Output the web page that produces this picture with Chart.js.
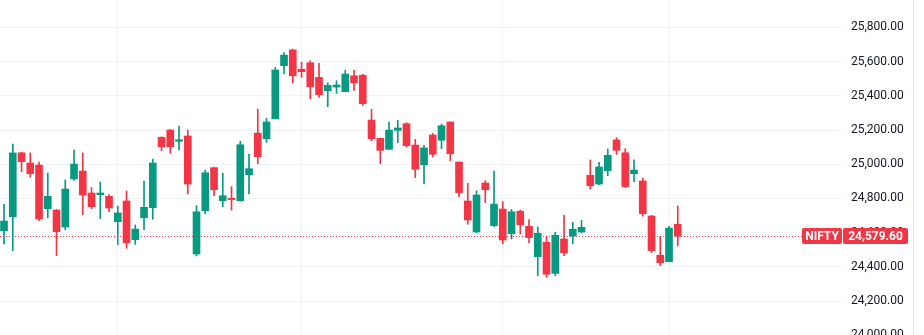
<!DOCTYPE html>
<html>
<head>
<meta charset="utf-8">
<script src="https://cdn.jsdelivr.net/npm/chart.js@4.4.1/dist/chart.umd.min.js"></script>
<style>
  html, body { margin: 0; padding: 0; background: #fff; overflow: hidden; }
  #wrap { width: 924px; height: 350px; position: relative; }
</style>
</head>
<body>
<div id="wrap"><canvas id="myChart"></canvas></div>
<script>
// daily NIFTY candles
const opens = [24611, 24693, 25067, 25007, 24995, 24740, 24732, 24633, 24914, 24960,
  24832, 24822, 24812, 24664, 24785, 24559, 24687, 24746, 25157, 25200,
  25134, 25165, 24475, 24728, 24980, 24787, 24801, 24787, 24939, 25182,
  25149, 25266, 25576, 25668, 25555, 25593, 25508, 25430, 25451, 25424,
  25517, 25520, 25258, 25151, 25087, 25198, 25237, 25112, 24997, 25171,
  25140, 25247, 25013, 24785, 24604, 24890, 24641, 24738, 24594, 24725,
  24637, 24459, 24544, 24362, 24563, 24580, 24604, 24935, 24884, 24962,
  25142, 25067, 24945, 24902, 24697, 24468, 24430, 24649];
const highs = [24766, 25118, 25071, 25066, 25013, 24949, 24736, 24908, 25083, 25066,
  24863, 24896, 24822, 24756, 24843, 24645, 24902, 25030, 25161, 25204,
  25223, 25200, 24758, 24966, 24984, 24947, 24869, 25134, 25060, 25323,
  25268, 25566, 25652, 25673, 25597, 25605, 25590, 25476, 25488, 25549,
  25549, 25526, 25321, 25153, 25247, 25257, 25243, 25146, 25111, 25181,
  25235, 25247, 25013, 24888, 24845, 24904, 24960, 24781, 24736, 24732,
  24676, 24633, 24580, 24602, 24701, 24661, 24672, 25025, 25011, 25089,
  25155, 25091, 25026, 24919, 24701, 24580, 24637, 24756];
const lows = [24534, 24495, 24956, 24924, 24670, 24687, 24465, 24616, 24906, 24705,
  24740, 24682, 24722, 24530, 24509, 24532, 24617, 24678, 25079, 25064,
  25083, 24826, 24464, 24709, 24816, 24752, 24732, 24783, 24826, 25003,
  25128, 25266, 25529, 25476, 25508, 25383, 25391, 25336, 25414, 25424,
  25432, 25344, 25136, 25003, 25087, 25126, 25102, 24921, 24886, 25042,
  25091, 25021, 24810, 24649, 24600, 24775, 24635, 24535, 24563, 24592,
  24541, 24348, 24339, 24348, 24465, 24535, 24600, 24855, 24880, 24933,
  25058, 24863, 24898, 24696, 24483, 24407, 24430, 24522];
const closes = [24668, 25066, 25015, 24945, 24680, 24812, 24606, 24855, 25001, 24820,
  24752, 24832, 24744, 24715, 24540, 24621, 24748, 25007, 25102, 25102,
  25143, 24884, 24722, 24950, 24851, 24816, 24793, 25114, 24974, 25044,
  25247, 25551, 25638, 25517, 25541, 25453, 25406, 25461, 25463, 25527,
  25476, 25354, 25149, 25081, 25200, 25212, 25108, 24970, 25095, 25058,
  25225, 25061, 24834, 24674, 24820, 24851, 24767, 24557, 24722, 24646,
  24571, 24596, 24357, 24585, 24481, 24620, 24631, 24874, 24984, 25052,
  25081, 24869, 24966, 24711, 24495, 24424, 24627, 24579.6];

// candle index of each month's first session (vertical grid lines)
const monthStarts = [13, 34, 57, 76];
const yTicks = { min: 23914, max: 25960, step: 200 };
const symbol = 'NIFTY';
const lastPrice = closes[closes.length - 1];

const GREEN = '#089981';
const RED = '#f23645';

const days = opens.map((_, i) => i);
const candleColors = days.map(i => closes[i] >= opens[i] ? GREEN : RED);

const fmt = v => v.toLocaleString('en-US', { minimumFractionDigits: 2, maximumFractionDigits: 2 });

const priceTag = {
  id: 'priceTag',
  beforeDatasetsDraw(chart) {
    const { ctx, chartArea, scales: { y } } = chart;
    const py = Math.round(y.getPixelForValue(lastPrice)) + 0.5;
    ctx.save();
    ctx.strokeStyle = RED;
    ctx.lineWidth = 1;
    ctx.setLineDash([1, 2]);
    ctx.beginPath();
    ctx.moveTo(chartArea.left, py);
    ctx.lineTo(chartArea.right - 40, py);
    ctx.stroke();
    ctx.restore();
  },
  afterDraw(chart) {
    const { ctx, chartArea, scales: { y } } = chart;
    const py = Math.round(y.getPixelForValue(lastPrice));
    ctx.save();
    // price scale border
    ctx.strokeStyle = '#e0e3eb';
    ctx.lineWidth = 1;
    ctx.beginPath();
    ctx.moveTo(y.right + 0.5, 0);
    ctx.lineTo(y.right + 0.5, chart.height);
    ctx.stroke();

    ctx.fillStyle = RED;
    ctx.beginPath();
    ctx.roundRect(chartArea.right - 40, py - 8, 40, 16, 2);
    ctx.fill();
    ctx.beginPath();
    ctx.roundRect(chartArea.right + 1, py - 8, 65, 16, 2);
    ctx.fill();

    ctx.fillStyle = '#fff';
    ctx.font = 'bold 12px Roboto';
    ctx.textAlign = 'center';
    ctx.textBaseline = 'middle';
    ctx.fillText(symbol, chartArea.right - 20, py + 1);
    ctx.fillText(fmt(lastPrice), chartArea.right + 33.5, py + 1);
    ctx.restore();
  }
};

Chart.defaults.font.family = 'Roboto';

new Chart(document.getElementById('myChart'), {
  type: 'bar',
  data: {
    datasets: [
      {
        label: 'body',
        data: days.map(i => ({ x: i, y: [opens[i], closes[i]] })),
        backgroundColor: candleColors,
        barThickness: 7,
        minBarLength: 1,
        grouped: false,
        borderWidth: 0
      },
      {
        label: 'wick',
        data: days.map(i => ({ x: i, y: [lows[i], highs[i]] })),
        backgroundColor: candleColors,
        barThickness: 1,
        grouped: false,
        borderWidth: 0
      }
    ]
  },
  options: {
    responsive: true,
    maintainAspectRatio: false,
    animation: false,
    layout: { padding: { left: 0, top: 0, bottom: 0, right: 11 } },
    plugins: {
      legend: { display: false },
      tooltip: { enabled: false }
    },
    scales: {
      x: {
        type: 'linear',
        offset: false,
        min: -0.46,
        max: 95.77,
        ticks: { display: false },
        grid: { color: '#f0f3fa', drawTicks: false, offset: false },
        border: { display: false },
        afterBuildTicks: (scale) => {
          scale.ticks = monthStarts.map(v => ({ value: v }));
        }
      },
      y: {
        position: 'right',
        min: yTicks.min,
        max: yTicks.max,
        ticks: {
          stepSize: yTicks.step,
          includeBounds: false,
          padding: 9,
          color: '#131722',
          font: { size: 12 },
          callback: (v) => fmt(v)
        },
        grid: { color: '#f0f3fa', drawTicks: false },
        border: { display: false },
        afterFit: (scale) => {
          scale.width = 71;
          scale.paddingTop = 0;
          scale.paddingBottom = 0;
        }
      }
    }
  },
  plugins: [priceTag]
});
</script>
</body>
</html>
